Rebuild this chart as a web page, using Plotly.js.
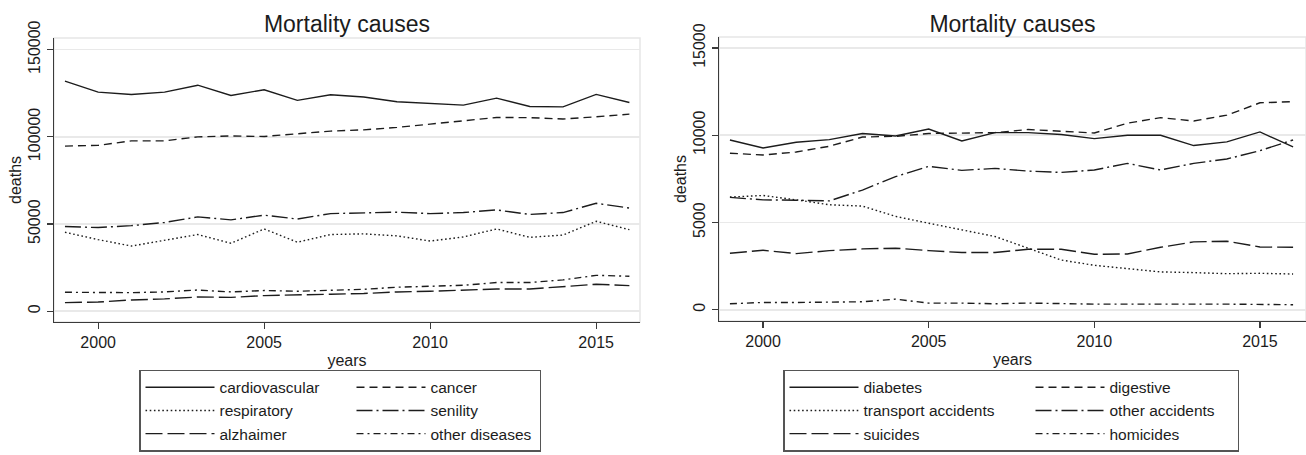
<!DOCTYPE html>
<html>
<head>
<meta charset="utf-8">
<script src="https://cdn.plot.ly/plotly-3.0.1.min.js"></script>
<style>
  html, body { margin: 0; padding: 0; background: #fff; }
  #wrap { position: relative; width: 1306px; height: 455px; }
  #left { position: absolute; left: 0; top: 0; width: 653px; height: 455px; }
  #right { position: absolute; left: 653px; top: 0; width: 653px; height: 455px; }
</style>
</head>
<body>
<div id="wrap"><div id="left"></div><div id="right"></div></div>
<script>
// ---------- data ----------
const years = [1999, 2000, 2001, 2002, 2003, 2004, 2005, 2006, 2007, 2008, 2009, 2010, 2011, 2012, 2013, 2014, 2015, 2016];

const cardiovascular = [131900, 125600, 124300, 125600, 129600, 123700, 127000, 120900, 124100, 122800, 120100, 119200, 118200, 122200, 117400, 117200, 124300, 119700];
const cancer         = [94700, 95100, 97700, 97700, 100000, 100500, 100200, 101700, 103300, 104000, 105400, 107300, 109400, 111100, 111000, 110200, 111500, 113000];
const respiratory    = [45300, 41100, 37400, 40700, 44000, 39000, 47200, 39600, 44000, 44400, 43200, 40300, 42600, 47200, 42400, 43700, 51600, 46800];
const senility       = [48600, 48000, 49100, 50900, 54100, 52400, 55100, 52900, 56000, 56600, 56800, 56000, 56600, 58100, 55500, 56600, 61900, 59200];
const alzheimer      = [5000, 5300, 6500, 7100, 8200, 8000, 9000, 9200, 9800, 10200, 11100, 11500, 12000, 12800, 12800, 14000, 15500, 14700];
const otherDiseases  = [10900, 10700, 10700, 11100, 12200, 11100, 11900, 11500, 11900, 12600, 13800, 14300, 14900, 16500, 16500, 18000, 20600, 20100];

const diabetes         = [9730, 9270, 9600, 9750, 10100, 9960, 10360, 9670, 10150, 10150, 10040, 9810, 10000, 10000, 9410, 9620, 10190, 9330];
const digestive        = [8970, 8870, 9040, 9370, 9900, 9940, 10100, 10110, 10150, 10330, 10210, 10130, 10690, 11010, 10820, 11150, 11860, 11930];
const transport        = [6460, 6550, 6300, 6020, 5940, 5350, 4960, 4580, 4200, 3530, 2850, 2550, 2360, 2170, 2130, 2070, 2090, 2050];
const otherAccidents   = [6440, 6300, 6280, 6240, 6860, 7630, 8220, 7990, 8100, 7950, 7870, 8010, 8390, 8010, 8390, 8640, 9120, 9730];
const suicides         = [3240, 3410, 3220, 3390, 3490, 3530, 3390, 3280, 3280, 3470, 3470, 3180, 3200, 3580, 3890, 3930, 3600, 3580];
const homicides        = [345, 420, 420, 440, 460, 610, 385, 385, 345, 385, 345, 325, 325, 305, 325, 325, 305, 290];

const leftNames  = ['cardiovascular', 'cancer', 'respiratory', 'senility', 'alzhaimer', 'other diseases'];
const rightNames = ['diabetes', 'digestive', 'transport accidents', 'other accidents', 'suicides', 'homicides'];
const xTicks = [2000, 2005, 2010, 2015];
const leftYTicks = [0, 50000, 100000, 150000];
const rightYTicks = [0, 5000, 10000, 15000];
const chartTitle = 'Mortality causes';
const xTitle = 'years';
const yTitle = 'deaths';

// ---------- styles ----------
const FONT = 'Liberation Sans, Arial, Helvetica, sans-serif';
const INK = '#1c1c1c';
const dashes = ['solid', '8px,5px', '1.6px,2.6px', '16px,4px,2px,4px', '17px,5px', '7px,4px,2px,4px'];
const colWidthsL = [127, 104];
const colWidthsR = [162, 123];

function makeTraces(series, names, colW) {
  return series.map((s, i) => ({
    type: 'scatter', mode: 'lines', x: years, y: s, name: names[i],
    line: { color: INK, width: 1.4, dash: dashes[i] },
    legendwidth: colW[i % 2],
    hoverinfo: 'skip'
  }));
}

function makeLayout(opts) {
  return {
    width: 653, height: 455,
    margin: { l: opts.l, r: opts.r, t: opts.t, b: opts.b, pad: 0 },
    paper_bgcolor: '#fff', plot_bgcolor: '#fff',
    font: { family: FONT, color: INK, size: 16 },
    showlegend: true,
    title: { text: chartTitle, font: { family: FONT, size: 23, color: INK },
             x: 0.5, xref: 'paper', xanchor: 'center', y: 1 - 23.5 / 455, yref: 'container', yanchor: 'middle' },
    xaxis: {
      range: opts.xr, tickvals: xTicks, ticktext: xTicks.map(String),
      showline: true, linecolor: '#3a3a3a', linewidth: 1.2,
      ticks: 'outside', ticklen: 6, tickcolor: '#3a3a3a', tickwidth: 1.2,
      showgrid: false, zeroline: false,
      tickfont: { family: FONT, size: 16, color: INK },
      title: { text: xTitle, font: { family: FONT, size: 16, color: INK }, standoff: 4 }
    },
    yaxis: {
      range: opts.yr, tickvals: opts.yt, ticktext: opts.yt.map(String),
      tickangle: -90,
      showline: true, linecolor: '#3a3a3a', linewidth: 1.2,
      ticks: 'outside', ticklen: 6, tickcolor: '#3a3a3a', tickwidth: 1.2,
      showgrid: true, gridcolor: '#e9e9e9', gridwidth: 1.6, zeroline: false,
      tickfont: { family: FONT, size: 16, color: INK },
      title: { text: yTitle, font: { family: FONT, size: 16, color: INK }, standoff: 0 }
    },
    shapes: [{ type: 'rect', xref: 'paper', yref: 'paper', x0: 0, x1: 1, y0: 0, y1: 1,
               line: { color: '#e6e6e6', width: 1.5 }, layer: 'below' }],
    legend: {
      orientation: 'h', xref: 'container', yref: 'container',
      x: opts.lx, xanchor: 'left', y: 1 - 451.5 / 455, yanchor: 'bottom',
      bordercolor: '#555', borderwidth: 1.2, bgcolor: '#fff',
      itemwidth: 69, itemclick: false, itemdoubleclick: false,
      font: { family: FONT, size: 15.5, color: INK }, traceorder: 'normal'
    }
  };
}

const cfg = { displayModeBar: false, staticPlot: true };

Plotly.newPlot('left',
  makeTraces([cardiovascular, cancer, respiratory, senility, alzheimer, otherDiseases], leftNames, colWidthsL),
  makeLayout({ l: 54, r: 13, t: 37.7, b: 133.3, xr: [1998.67, 2016.32], yr: [-6133, 156650], yt: leftYTicks, lx: 139.3 / 653 }),
  cfg);

Plotly.newPlot('right',
  makeTraces([diabetes, digestive, transport, otherAccidents, suicides, homicides], rightNames, colWidthsR),
  makeLayout({ l: 66, r: 0, t: 36.7, b: 134.3, xr: [1998.67, 2016.39], yr: [-642, 15630], yt: rightYTicks, lx: 130.3 / 653 }),
  cfg);
</script>
</body>
</html>
